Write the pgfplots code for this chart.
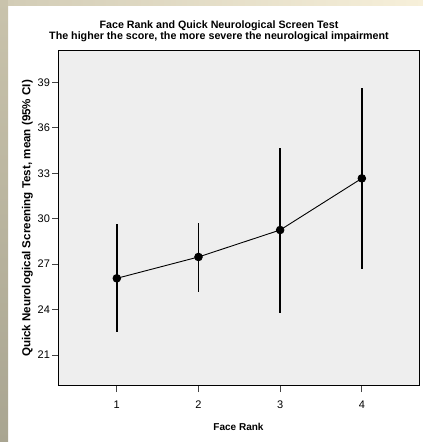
\documentclass[border=0pt]{standalone}
\usepackage{pgfplots}
\pgfplotsset{compat=1.18}
\usepackage{fontspec}
\setmainfont{Liberation Sans}
\definecolor{plotbg}{HTML}{EEEEEE}
\definecolor{tickgray}{HTML}{444444}
\begin{document}
\begin{tikzpicture}[x=1pt,y=1pt]
% page background and frame decoration
\fill[white] (0,0) rectangle (423,442);
\shade[top color={rgb,255:red,201;green,195;blue,172}, bottom color={rgb,255:red,169;green,165;blue,145}] (0,0) rectangle (8,442);
\shade[left color={rgb,255:red,210;green,204;blue,182}, right color={rgb,255:red,247;green,240;blue,218}] (8,436) rectangle (423,442);
\begin{axis}[
  at={(58pt,56pt)}, anchor=south west,
  width=361pt, height=335pt, scale only axis,
  xmin=0.28, xmax=4.7, ymin=18.95, ymax=41.07,
  xtick={1,2,3,4}, ytick={21,24,27,30,33,36,39},
  tick align=outside, major tick length=6pt,
  tick style={tickgray, line width=0.8pt},
  xtick pos=bottom, ytick pos=left,
  axis background/.style={fill=plotbg},
  axis line style={black, line width=1pt},
  /pgf/number format/assume math mode=true,
  tick label style={font=\fontsize{11}{13}\selectfont},
  xticklabel style={yshift=-5pt},
  yticklabel style={xshift=1.5pt},
  xlabel={\textbf{Face Rank}},
  ylabel={\textbf{Quick Neurological Screening Test, mean (95\% CI)}},
  xlabel style={font=\fontsize{10}{12}\selectfont, at={(axis description cs:0.5,0)}, anchor=base, yshift=-44pt},
  ylabel style={font=\fontsize{11.6}{13}\selectfont, at={(axis description cs:0,0.5)}, anchor=base, yshift=27.5pt},
  clip=false,
]
\addplot[draw=none, mark=none, forget plot,
  error bars/.cd, y dir=both, y explicit,
  error mark=none, error bar style={black, line width=1.8pt}]
  coordinates {
    (1,26.06) += (0,3.57) -= (0,3.56)
    (2,27.47) += (0,2.24) -= (0,2.29)
    (3,29.25) += (0,5.41) -= (0,5.46)
    (4,32.66) += (0,5.94) -= (0,5.98)
  };
\addplot[black, line width=0.9pt, mark=*, mark size=3.8pt, mark options={fill=black}]
  coordinates {(1,26.06) (2,27.47) (3,29.25) (4,32.66)};
\end{axis}
\node[anchor=base, font=\bfseries\fontsize{10.7}{12}\selectfont] at (219,413.7) {Face Rank and Quick Neurological Screen Test};
\node[anchor=base, font=\bfseries\fontsize{10.7}{12}\selectfont] at (219,402) {The higher the score, the more severe the neurological impairment};
\end{tikzpicture}
\end{document}
